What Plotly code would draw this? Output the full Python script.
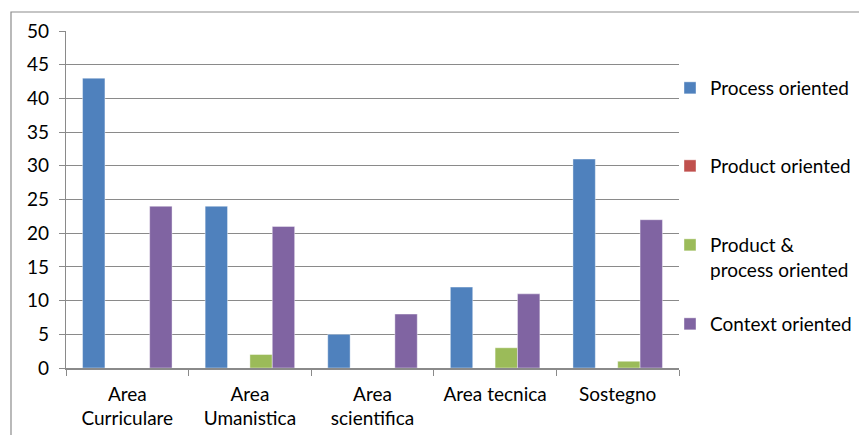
import plotly.graph_objects as go

# Data
categories = ["Area<br>Curriculare", "Area<br>Umanistica", "Area<br>scientifica",
              "Area tecnica", "Sostegno"]
process_oriented = [43, 24, 5, 12, 31]
product_oriented = [0, 0, 0, 0, 0]
product_process_oriented = [0, 2, 0, 3, 1]
context_oriented = [24, 21, 8, 11, 22]

series_names = ["Process oriented", "Product oriented",
                "Product &<br>process oriented", "Context oriented"]
series_values = [process_oriented, product_oriented,
                 product_process_oriented, context_oriented]
series_colors = ["#4F81BD", "#C0504D", "#9BBB59", "#8064A2"]
y_ticks = list(range(0, 51, 5))

W, H = 859, 435
L, R, T, B = 66, 180, 31, 67
pw, ph = W - L - R, H - T - B

def px_x(px):
    return (px - L) / pw

def px_y(py):
    return (H - B - py) / ph

FONT = "Lato"
FS = 19
fig = go.Figure()
legend_ids = ["legend", "legend2", "legend3", "legend4"]
legend_tops = [69, 147, 226, 305]

for name, vals, col, lid in zip(series_names, series_values, series_colors, legend_ids):
    fig.add_trace(go.Bar(
        x=categories, y=vals, name=name, legend=lid,
        marker=dict(color=col, line=dict(color="rgba(255,255,255,0.5)", width=0.8)),
    ))

layout_legends = {}
for lid, top in zip(legend_ids, legend_tops):
    layout_legends[lid] = dict(
        x=px_x(670), y=px_y(top), xanchor="left", yanchor="top",
        font=dict(family=FONT, size=FS, color="#000000"),
        bgcolor="rgba(0,0,0,0)", valign="top",
        itemclick=False, itemdoubleclick=False,
    )

fig.update_layout(
    width=W, height=H,
    margin=dict(l=L, r=R, t=T, b=B, autoexpand=False),
    paper_bgcolor="white", plot_bgcolor="white",
    barmode="group", bargap=0.27, bargroupgap=0,
    font=dict(family=FONT, size=FS, color="#000000"),
    showlegend=True,
    **layout_legends,
)

fig.update_yaxes(
    range=[0, 50], tickvals=y_ticks, automargin=False,
    showgrid=True, gridcolor="#8a8a8a", gridwidth=1.3,
    showline=True, linecolor="#8a8a8a", linewidth=1.3,
    ticks="outside", ticklen=6, tickcolor="#8a8a8a", tickwidth=1.3,
    ticklabelstandoff=6,
    tickfont=dict(family=FONT, size=FS), zeroline=False,
)
fig.update_xaxes(
    automargin=False,
    showline=True, linecolor="#8a8a8a", linewidth=1.5,
    ticks="outside", ticklen=6, tickcolor="#8a8a8a", tickwidth=1.3,
    tickson="boundaries", ticklabelstandoff=8,
    tickfont=dict(family=FONT, size=FS), showgrid=False,
)

# Outer chart frame
fig.add_shape(type="rect", xref="paper", yref="paper",
              x0=px_x(11), x1=px_x(875), y0=px_y(450), y1=px_y(12),
              line=dict(color="#8c8c8c", width=1.2), layer="below")

fig.write_html("out.html")
